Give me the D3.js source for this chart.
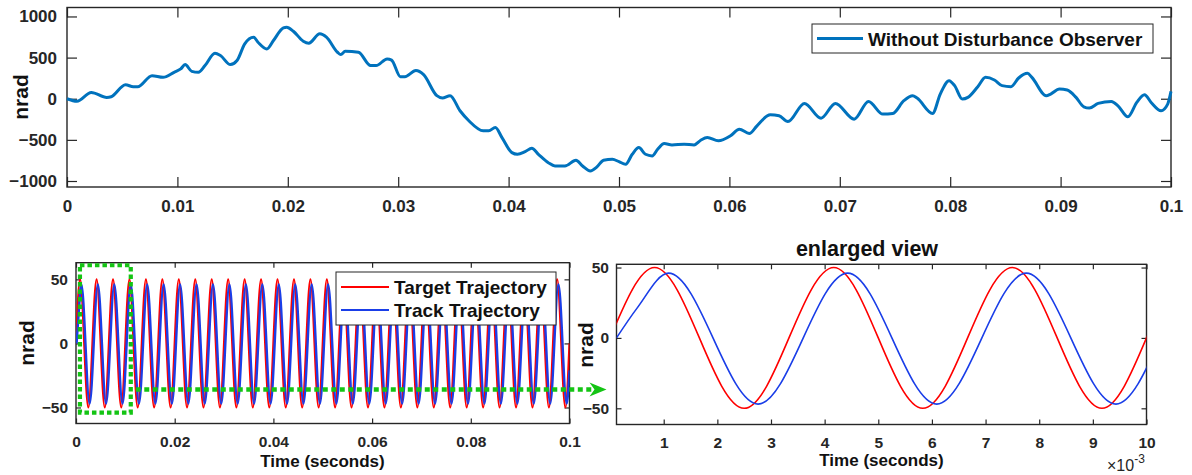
<!DOCTYPE html>
<html>
<head>
<meta charset="utf-8">
<script src="https://cdn.jsdelivr.net/npm/d3@7"></script>
<style>
  body { margin: 0; background: #fff; }
  svg { display: block; }
</style>
</head>
<body>
<script>
// Top panel: error without disturbance observer, [time (s), nrad]
const withoutDOB = [
  [0,0],[0.0009,-30],[0.0022,77],[0.0036,16],[0.004,24],[0.0053,170],[0.006,146],[0.0064,146],
  [0.0077,280],[0.0087,260],[0.0097,321],[0.0103,362],[0.0107,415],[0.0113,333],[0.0119,321],
  [0.0125,403],[0.0134,553],[0.0139,525],[0.0148,415],[0.0154,464],[0.0161,667],[0.0169,748],
  [0.0173,687],[0.0181,606],[0.0187,708],[0.0196,862],[0.0199,870],[0.0205,821],[0.0214,699],
  [0.0219,675],[0.0229,789],[0.0235,748],[0.0245,565],[0.0248,537],[0.0252,577],[0.0264,565],
  [0.0275,403],[0.028,403],[0.029,484],[0.0294,470],[0.0302,268],[0.0306,268],[0.0316,342],
  [0.0323,293],[0.0335,37],[0.034,8],[0.0347,37],[0.0356,-146],[0.0364,-268],[0.0377,-390],
  [0.0382,-390],[0.0388,-350],[0.0394,-472],[0.0403,-655],[0.0408,-675],[0.0415,-643],
  [0.0421,-602],[0.0427,-675],[0.0436,-777],[0.0442,-817],[0.0451,-817],[0.0461,-748],
  [0.0467,-817],[0.0474,-878],[0.048,-829],[0.0486,-748],[0.0494,-736],[0.05,-765],[0.0506,-797],
  [0.0512,-675],[0.0518,-594],[0.0524,-675],[0.053,-695],[0.0535,-614],[0.0541,-545],
  [0.0548,-561],[0.0559,-553],[0.0568,-561],[0.0574,-504],[0.058,-472],[0.059,-512],
  [0.0601,-451],[0.0609,-370],[0.0618,-423],[0.0625,-329],[0.0637,-195],[0.0645,-207],
  [0.0653,-277],[0.0668,-57],[0.0683,-236],[0.0696,-57],[0.0713,-248],[0.0726,-33],
  [0.0739,-187],[0.0748,-179],[0.0758,-24],[0.0766,37],[0.077,8],[0.0784,-179],[0.0791,57],
  [0.0799,220],[0.0804,159],[0.0811,-4],[0.0816,16],[0.0825,146],[0.0832,260],[0.084,228],
  [0.0847,159],[0.0855,146],[0.0862,252],[0.087,309],[0.0874,260],[0.0887,37],[0.0891,57],
  [0.0899,118],[0.0906,106],[0.0914,16],[0.0921,-98],[0.0926,-114],[0.0934,-57],[0.0946,-33],
  [0.0952,-86],[0.0961,-220],[0.0969,-45],[0.0976,49],[0.0982,-45],[0.0991,-146],[0.0997,-65],
  [0.1,89]
];

// Bottom panels: peaks/troughs of the trajectories, [time (ms), nrad]
const targetTraj = [
  [0,0],[0.83,50],[2.5,-50],[4.17,50],[5.83,-50],[7.5,50],[9.17,-50],[10.83,50],[12.5,-50],
  [14.17,50],[15.83,-50],[17.5,50],[19.17,-50],[20.83,50],[22.5,-50],[24.17,50],[25.83,-50],
  [27.5,50],[29.17,-50],[30.83,50],[32.5,-50],[34.17,50],[35.83,-50],[37.5,50],[39.17,-50],
  [40.83,50],[42.5,-50],[44.17,50],[45.83,-50],[47.5,50],[49.17,-50],[50.83,50],[52.5,-50],
  [54.17,50],[55.83,-50],[57.5,50],[59.17,-50],[60.83,50],[62.5,-50],[64.17,50],[65.83,-50],
  [67.5,50],[69.17,-50],[70.83,50],[72.5,-50],[74.17,50],[75.83,-50],[77.5,50],[79.17,-50],
  [80.83,50],[82.5,-50],[84.17,50],[85.83,-50],[87.5,50],[89.17,-50],[90.83,50],[92.5,-50],
  [94.17,50],[95.83,-50],[97.5,50],[99.17,-50],[100,0]
];
const trackTraj = [
  [0.12,0],[0.5,21],[1.09,46],[2.76,-47],[4.43,46],[6.09,-47],[7.76,46],[9.43,-47],[11.09,46],
  [12.76,-47],[14.43,46],[16.09,-47],[17.76,46],[19.43,-47],[21.09,46],[22.76,-47],[24.43,46],
  [26.09,-47],[27.76,46],[29.43,-47],[31.09,46],[32.76,-47],[34.43,46],[36.09,-47],[37.76,46],
  [39.43,-47],[41.09,46],[42.76,-47],[44.43,46],[46.09,-47],[47.76,46],[49.43,-47],[51.09,46],
  [52.76,-47],[54.43,46],[56.09,-47],[57.76,46],[59.43,-47],[61.09,46],[62.76,-47],[64.43,46],
  [66.09,-47],[67.76,46],[69.43,-47],[71.09,46],[72.76,-47],[74.43,46],[76.09,-47],[77.76,46],
  [79.43,-47],[81.09,46],[82.76,-47],[84.43,46],[86.09,-47],[87.76,46],[89.43,-47],[91.09,46],
  [92.76,-47],[94.43,46],[96.09,-47],[97.76,46],[99.43,-47],[100,-21]
];

// Ticks
const topXTicks = [0, 0.01, 0.02, 0.03, 0.04, 0.05, 0.06, 0.07, 0.08, 0.09, 0.1];
const topXLabels = ["0", "0.01", "0.02", "0.03", "0.04", "0.05", "0.06", "0.07", "0.08", "0.09", "0.1"];
const topYTicks = [-1000, -500, 0, 500, 1000];
const fullXTicks = [0, 20, 40, 60, 80, 100];
const fullXLabels = ["0", "0.02", "0.04", "0.06", "0.08", "0.1"];
const zoomXTicks = [1, 2, 3, 4, 5, 6, 7, 8, 9, 10];
const trajYTicks = [-50, 0, 50];

// Zoomed window marked on the full view (ms, nrad) and arrow level
const zoomWindow = { t: [0.8, 11.1], v: [-54, 61] };
const arrowLevel = -36;

const FONT = "'Liberation Sans', Arial, sans-serif";
const INK = "#262626";
const GREEN = "#14c414";

const svg = d3.select("body").append("svg")
    .attr("width", 1192)
    .attr("height", 475);

svg.append("rect").attr("width", 1192).attr("height", 475).attr("fill", "#fff");

// MATLAB-like boxed axes: ticks inside on all four sides
function drawAxes(g, x, y, o) {
  const [x0, x1] = x.range(), [y0, y1] = y.range();
  const styleText = sel => sel.selectAll("text")
      .attr("font-family", FONT).attr("font-weight", "bold")
      .attr("font-size", o.fontSize).attr("fill", INK);

  g.append("g").attr("transform", `translate(0,${y0})`)
      .call(d3.axisBottom(x).tickValues(o.xTicks)
        .tickFormat((d, i) => o.xLabels ? o.xLabels[i] : d)
        .tickSize(-o.tick).tickPadding(o.xPad))
      .call(styleText);
  g.append("g").attr("transform", `translate(0,${y1})`)
      .call(d3.axisTop(x).tickValues(o.xTicks).tickFormat("").tickSize(-o.tick));
  g.append("g").attr("transform", `translate(${x0},0)`)
      .call(d3.axisLeft(y).tickValues(o.yTicks).tickFormat(d3.format("d"))
        .tickSize(-o.tick).tickPadding(o.yPad))
      .call(styleText);
  g.append("g").attr("transform", `translate(${x1},0)`)
      .call(d3.axisRight(y).tickValues(o.yTicks).tickFormat("").tickSize(-o.tick));

  g.selectAll(".domain").remove();
  g.selectAll(".tick line").attr("stroke", INK).attr("stroke-width", 1.2);

  g.append("rect")
      .attr("x", x0).attr("y", y1)
      .attr("width", x1 - x0).attr("height", y0 - y1)
      .attr("fill", "none").attr("stroke", INK).attr("stroke-width", 1.4);
}

function yLabel(cx, cy, size) {
  svg.append("text")
      .attr("transform", `translate(${cx},${cy}) rotate(-90)`)
      .attr("text-anchor", "middle").attr("dy", "0.35em")
      .attr("font-family", FONT).attr("font-weight", "bold")
      .attr("font-size", size).attr("fill", "#111")
      .text("nrad");
}

function clipTo(id, x, y) {
  svg.append("clipPath").attr("id", id).append("rect")
      .attr("x", x.range()[0]).attr("y", y.range()[1])
      .attr("width", x.range()[1] - x.range()[0])
      .attr("height", y.range()[0] - y.range()[1]);
}

// ---------- top panel ----------
const xTop = d3.scaleLinear().domain([0, 0.1]).range([67, 1171]);
const yTop = d3.scaleLinear().domain([-1073, 1109]).range([187, 7.5]);
const gTop = svg.append("g");
drawAxes(gTop, xTop, yTop, {
  xTicks: topXTicks, xLabels: topXLabels, yTicks: topYTicks,
  tick: 10, xPad: 13, yPad: 10, fontSize: 17
});

gTop.append("path")
    .datum(withoutDOB)
    .attr("fill", "none")
    .attr("stroke", "#0072BD")
    .attr("stroke-width", 3)
    .attr("stroke-linejoin", "round")
    .attr("d", d3.line().x(d => xTop(d[0])).y(d => yTop(d[1])).curve(d3.curveMonotoneX));

yLabel(21, 97, 21);

// legend
const lgTop = gTop.append("g");
lgTop.append("rect").attr("x", 812).attr("y", 24).attr("width", 341).attr("height", 29)
    .attr("fill", "#fff").attr("stroke", INK).attr("stroke-width", 1);
lgTop.append("line").attr("x1", 817).attr("x2", 863).attr("y1", 38.5).attr("y2", 38.5)
    .attr("stroke", "#0072BD").attr("stroke-width", 3);
lgTop.append("text").attr("x", 868).attr("y", 45.5)
    .attr("font-family", FONT).attr("font-weight", "bold").attr("font-size", 19).attr("fill", "#111")
    .text("Without Disturbance Observer");

// ---------- bottom-left: full view ----------
const xFull = d3.scaleLinear().domain([0, 100]).range([76, 569.5]);
const yFull = d3.scaleLinear().domain([-62.5, 63]).range([423.5, 262.7]);
const gFull = svg.append("g");
drawAxes(gFull, xFull, yFull, {
  xTicks: fullXTicks, xLabels: fullXLabels, yTicks: trajYTicks,
  tick: 5, xPad: 12, yPad: 8, fontSize: 15.5
});
clipTo("clipFull", xFull, yFull);

const lineFull = d3.line().x(d => xFull(d[0])).y(d => yFull(d[1])).curve(d3.curveMonotoneX);
const plotFull = gFull.append("g").attr("clip-path", "url(#clipFull)");
plotFull.append("path").datum(targetTraj)
    .attr("fill", "none").attr("stroke", "#ff0000").attr("stroke-width", 2.2)
    .attr("d", lineFull);
plotFull.append("path").datum(trackTraj)
    .attr("fill", "none").attr("stroke", "#1a3ee8").attr("stroke-width", 2.4)
    .attr("d", lineFull);

yLabel(27, 343, 21);

gFull.append("text").attr("x", 322.5).attr("y", 467).attr("text-anchor", "middle")
    .attr("font-family", FONT).attr("font-weight", "bold").attr("font-size", 17).attr("fill", "#111")
    .text("Time (seconds)");

// legend
const lgFull = gFull.append("g");
lgFull.append("rect").attr("x", 336).attr("y", 272).attr("width", 220).attr("height", 53)
    .attr("fill", "#fff").attr("stroke", INK).attr("stroke-width", 1);
[["Target Trajectory", "#ff0000", 287], ["Track Trajectory", "#1a3ee8", 310]].forEach(([name, c, ly]) => {
  lgFull.append("line").attr("x1", 341).attr("x2", 389).attr("y1", ly).attr("y2", ly)
      .attr("stroke", c).attr("stroke-width", 2);
  lgFull.append("text").attr("x", 394).attr("y", ly + 6.5)
      .attr("font-family", FONT).attr("font-weight", "bold").attr("font-size", 19).attr("fill", "#111")
      .text(name);
});

// ---------- bottom-right: enlarged view ----------
const xZoom = d3.scaleLinear().domain([0.12, 10]).range([616.5, 1146.5]);
const yZoom = d3.scaleLinear().domain([-61.5, 52.3]).range([424.5, 264.3]);
const gZoom = svg.append("g");
drawAxes(gZoom, xZoom, yZoom, {
  xTicks: zoomXTicks, yTicks: trajYTicks,
  tick: 5, xPad: 12, yPad: 7.5, fontSize: 15.5
});
clipTo("clipZoom", xZoom, yZoom);

const lineZoom = d3.line().x(d => xZoom(d[0])).y(d => yZoom(d[1])).curve(d3.curveMonotoneX);
const plotZoom = gZoom.append("g").attr("clip-path", "url(#clipZoom)");
plotZoom.append("path").datum(targetTraj)
    .attr("fill", "none").attr("stroke", "#ff0000").attr("stroke-width", 1.6)
    .attr("d", lineZoom);
plotZoom.append("path").datum(trackTraj)
    .attr("fill", "none").attr("stroke", "#1a3ee8").attr("stroke-width", 1.6)
    .attr("d", lineZoom);

yLabel(586, 345, 21);

gZoom.append("text").attr("x", 867).attr("y", 256).attr("text-anchor", "middle")
    .attr("font-family", FONT).attr("font-weight", "bold").attr("font-size", 21.5).attr("fill", "#111")
    .text("enlarged view");

gZoom.append("text").attr("x", 881.5).attr("y", 466).attr("text-anchor", "middle")
    .attr("font-family", FONT).attr("font-weight", "bold").attr("font-size", 17).attr("fill", "#111")
    .text("Time (seconds)");

// x10^-3 exponent label
const expo = gZoom.append("text").attr("x", 1107).attr("y", 471)
    .attr("font-family", FONT).attr("font-size", 16).attr("fill", INK);
expo.append("tspan").text("\u00d710");
expo.append("tspan").attr("dy", -8).attr("font-size", 12).text("-3");

// ---------- zoom marker and arrow ----------
svg.append("rect")
    .attr("x", xFull(zoomWindow.t[0])).attr("y", yFull(zoomWindow.v[1]))
    .attr("width", xFull(zoomWindow.t[1]) - xFull(zoomWindow.t[0]))
    .attr("height", yFull(zoomWindow.v[0]) - yFull(zoomWindow.v[1]))
    .attr("fill", "none").attr("stroke", GREEN)
    .attr("stroke-width", 4.2).attr("stroke-dasharray", "4.5,3");

const ay = yFull(arrowLevel);
const ax0 = xFull(zoomWindow.t[1]) + 5;
const tip = xZoom.range()[0] - 10;
svg.append("line")
    .attr("x1", ax0).attr("x2", tip - 12).attr("y1", ay).attr("y2", ay)
    .attr("stroke", GREEN).attr("stroke-width", 4.5).attr("stroke-dasharray", "5,3.5");
svg.append("path")
    .attr("d", `M${tip},${ay} L${tip - 17},${ay - 7} L${tip - 12},${ay} L${tip - 17},${ay + 7} Z`)
    .attr("fill", GREEN);
</script>
</body>
</html>
